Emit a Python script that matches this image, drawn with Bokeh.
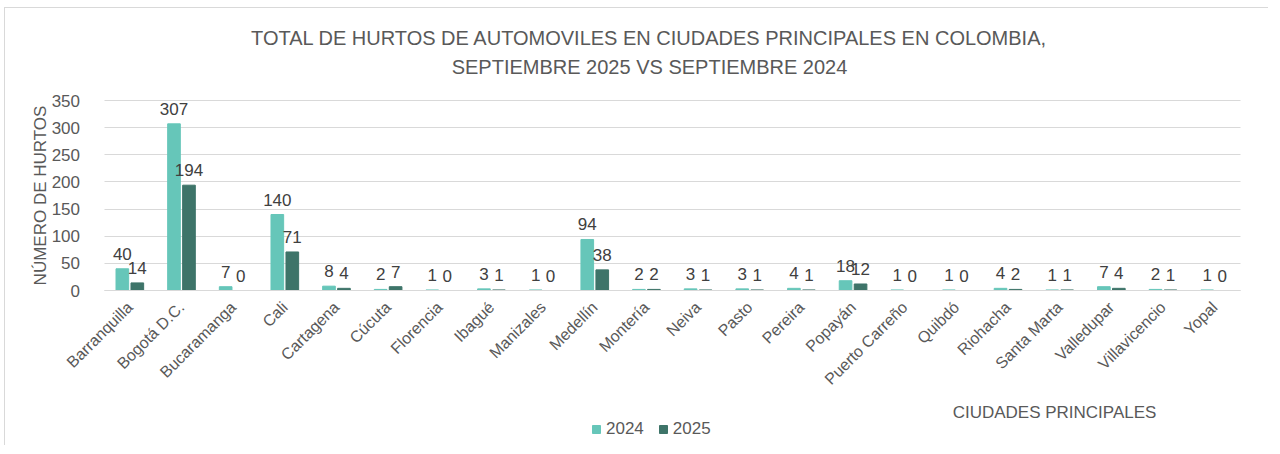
from bokeh.plotting import figure
from bokeh.models import (ColumnDataSource, LabelSet, Label, Legend, LegendItem,
                          Range1d, FixedTicker)
from bokeh.core.properties import value
from bokeh.transform import dodge
from bokeh.embed import file_html
from bokeh.resources import INLINE
import math

cities = ["Barranquilla", "Bogotá D.C.", "Bucaramanga", "Cali", "Cartagena", "Cúcuta",
          "Florencia", "Ibagué", "Manizales", "Medellín", "Montería", "Neiva", "Pasto",
          "Pereira", "Popayán", "Puerto Carreño", "Quibdó", "Riohacha", "Santa Marta",
          "Valledupar", "Villavicencio", "Yopal"]
v2024 = [40, 307, 7, 140, 8, 2, 1, 3, 1, 94, 2, 3, 3, 4, 18, 1, 1, 4, 1, 7, 2, 1]
v2025 = [14, 194, 0, 71, 4, 7, 0, 1, 0, 38, 2, 1, 1, 1, 12, 0, 0, 2, 1, 4, 1, 0]
series = ["2024", "2025"]
yticks = [0, 50, 100, 150, 200, 250, 300, 350]

title_lines = ["TOTAL DE HURTOS DE AUTOMOVILES EN CIUDADES PRINCIPALES EN COLOMBIA,",
               "SEPTIEMBRE 2025 VS SEPTIEMBRE 2024"]
x_title = "CIUDADES PRINCIPALES"
y_title = "NÚMERO DE HURTOS"

C24 = "#66C6B9"
C25 = "#3E7469"
TXT = "#595959"
FONT = "Liberation Sans"

# ---- layout in pixels (figure-relative) ----
W, H = 1264, 438
X0_PX, X1_PX = 98.5, 1235.0          # left / right edge of the category area
Y0_PX, YMAX_PX = 282.0, 92.0         # value 0 / value 350 from the figure top
n = len(cities)
ymax = yticks[-1]
ppu_x = (X1_PX - X0_PX) / n
ppu_y = (Y0_PX - YMAX_PX) / ymax
x_lo, x_hi = -X0_PX / ppu_x, n + (W - X1_PX) / ppu_x
y_lo, y_hi = -(H - Y0_PX) / ppu_y, ymax + YMAX_PX / ppu_y

pos = [i + 0.5 for i in range(n)]
src = ColumnDataSource(dict(pos=pos, city=cities, v2024=v2024, v2025=v2025,
                            l2024=[str(v) for v in v2024], l2025=[str(v) for v in v2025]))

p = figure(width=W, height=H, x_range=Range1d(x_lo, x_hi), y_range=Range1d(y_lo, y_hi),
           output_backend="svg", toolbar_location=None,
           min_border_left=0, min_border_right=0, min_border_top=0, min_border_bottom=0)
p.styles = {"border-left": "1px solid #D9D9D9", "border-top": "1px solid #D9D9D9",
            "margin-left": "4px", "margin-top": "7px"}

OFF, BW = 0.145, 0.245
r1 = p.vbar(x=dodge("pos", -OFF), top="v2024", width=BW, source=src, color=C24)
r2 = p.vbar(x=dodge("pos", OFF), top="v2025", width=BW, source=src, color=C25)

for col, lab_col, off in [("v2024", "l2024", -OFF), ("v2025", "l2025", OFF)]:
    ls = LabelSet(x=dodge("pos", off), y=col, text=lab_col, source=src,
                  y_offset=9, text_align="center", text_baseline="bottom",
                  text_font_size="17px", text_color="#404040", text_font=value(FONT))
    p.add_layout(ls)

p.outline_line_color = None
p.background_fill_color = "white"
p.xgrid.grid_line_color = None
p.ygrid.grid_line_color = "#D9D9D9"
p.ygrid.grid_line_width = 1
try:
    p.ygrid.cross_bounds = (0, n)
except Exception:
    p.ygrid.grid_line_color = None
    p.segment(x0=[0] * len(yticks), x1=[n] * len(yticks), y0=yticks, y1=yticks,
              line_color="#D9D9D9", line_width=1, level="underlay")

# y axis placed at the left edge of the category area
p.yaxis.fixed_location = 0
p.yaxis.ticker = FixedTicker(ticks=yticks)
p.yaxis.bounds = (0, ymax)
p.yaxis.axis_line_color = None
p.yaxis.major_tick_line_color = None
p.yaxis.minor_tick_line_color = None
p.yaxis.major_label_text_font_size = "17px"
p.yaxis.major_label_text_color = TXT
p.yaxis.major_label_text_font = FONT
p.yaxis.major_label_standoff = 18

# x axis at value 0 with the city names
p.xaxis.fixed_location = 0
p.xaxis.ticker = FixedTicker(ticks=pos)
p.xaxis.major_label_overrides = {float(x): c for x, c in zip(pos, cities)}
p.xaxis.bounds = (0, n)
p.xaxis.axis_line_color = "#D9D9D9"
p.xaxis.major_tick_line_color = None
p.xaxis.minor_tick_line_color = None
p.xaxis.major_label_orientation = math.pi / 4
p.xaxis.major_label_text_font_size = "16px"
p.xaxis.major_label_text_color = TXT
p.xaxis.major_label_text_font = FONT
p.xaxis.major_label_standoff = 8

def lab(x, y, text, size, angle=0.0):
    p.add_layout(Label(x=x, y=H - y, x_units="screen", y_units="screen", text=text,
                       angle=angle, text_align="center", text_baseline="middle",
                       text_font_size=size, text_color=TXT, text_font=FONT))

lab(644, 29, title_lines[0], "20px")
lab(644, 58, title_lines[1], "20px")
lab(1049, 404, x_title, "17px")
lab(35, 187, y_title, "17px", angle=math.pi / 2)

legend = Legend(items=[LegendItem(label=series[0], renderers=[r1]),
                       LegendItem(label=series[1], renderers=[r2])],
                location=(586, 7), orientation="horizontal",
                glyph_width=10, glyph_height=10, label_text_font_size="17px",
                label_text_color=TXT, label_text_font=FONT, label_standoff=5,
                spacing=14, padding=0, margin=0, border_line_color=None,
                background_fill_alpha=0)
p.add_layout(legend, "center")

open("out.html", "w").write(file_html(p, INLINE))
